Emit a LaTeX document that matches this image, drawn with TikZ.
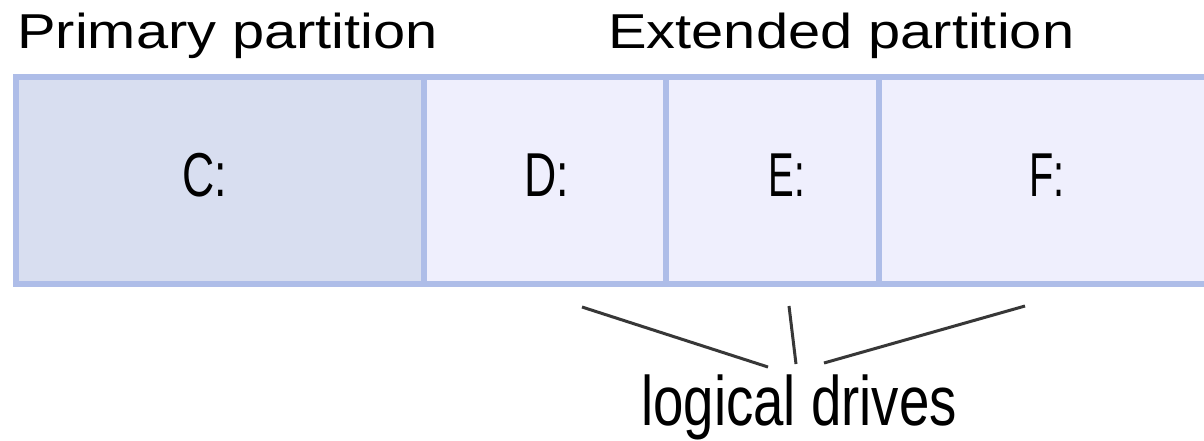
\documentclass[tikz,border=0pt]{standalone}
\usepackage{fontspec}
\setmainfont{Liberation Sans}
\definecolor{bordercol}{RGB}{174,189,232}
\definecolor{primfill}{RGB}{216,222,240}
\definecolor{extfill}{RGB}{239,239,253}
\definecolor{linecol}{RGB}{55,55,55}
\begin{document}
\begin{tikzpicture}[x=1pt,y=-1pt,
  part/.style={draw=bordercol,line width=6pt,inner sep=0pt,outer sep=0pt},
  titletext/.style={inner sep=0pt,anchor=base west,font=\fontsize{49}{55}\selectfont},
  drivetext/.style={inner sep=0pt,anchor=base,font=\fontsize{62}{70}\selectfont},
  pointer/.style={draw=linecol,line width=3pt}]
\useasboundingbox (0,0) rectangle (1204,440);
\clip (0,0) rectangle (1204,440);
\fill[white] (0,0) rectangle (1204,440);
% partitions
\node[part,fill=primfill,minimum width=408pt,minimum height=207pt,anchor=north west] (c) at (16,77) {};
\node[part,fill=extfill,minimum width=242pt,minimum height=207pt,anchor=north west] (d) at (424,77) {};
\node[part,fill=extfill,minimum width=213pt,minimum height=207pt,anchor=north west] (e) at (666,77) {};
\node[part,fill=extfill,minimum width=335pt,minimum height=207pt,anchor=north west] (f) at (879,77) {};
% titles
\node[titletext] (prim) at (17,48) {\scalebox{1.18}[1]{Primary partition}};
\node[titletext] (ext) at (608,48) {\scalebox{1.18}[1]{Extended partition}};
% drive letters
\node[drivetext] (cl) at (205,196) {\scalebox{0.72}[1]{C:}};
\node[drivetext] (dl) at (547,196) {\scalebox{0.72}[1]{D:}};
\node[drivetext] (el) at (787,196) {\scalebox{0.62}[1]{E:}};
\node[drivetext] (fl) at (1047,196) {\scalebox{0.64}[1]{F:}};
% logical drives label
\node[inner sep=0pt,anchor=base west,font=\fontsize{70}{80}\selectfont] (ld) at (641,425) {\scalebox{0.78}[1]{logical drives}};
% pointer lines
\coordinate (p1a) at (582,307);
\coordinate (p1b) at (768,367);
\coordinate (p2a) at (789,306);
\coordinate (p2b) at (796,364);
\coordinate (p3a) at (1025,306);
\coordinate (p3b) at (824,363);
\draw[pointer] (p1a) -- (p1b);
\draw[pointer] (p2a) -- (p2b);
\draw[pointer] (p3a) -- (p3b);
\end{tikzpicture}
\end{document}
